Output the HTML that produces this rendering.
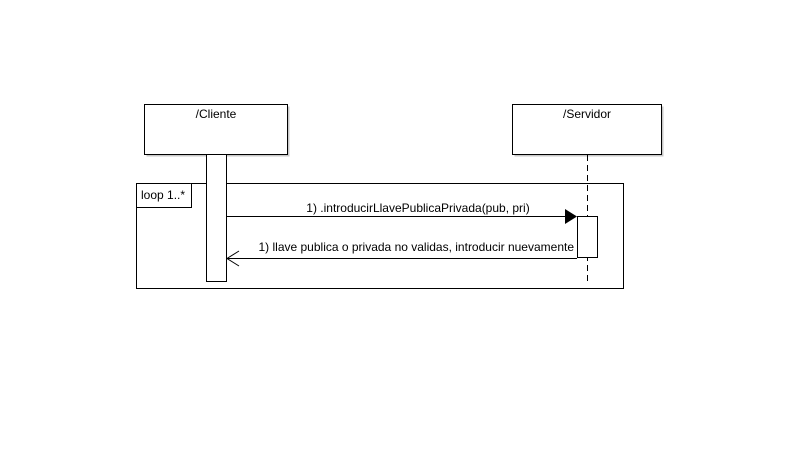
<!DOCTYPE html>
<html><head><style>body{margin:0;background:#fff}</style></head><body>
<svg width="798" height="456" xmlns="http://www.w3.org/2000/svg" font-family="Liberation Sans, Arial, sans-serif" font-size="12">
<rect width="798" height="456" fill="#fff"/>
<rect x="146.5" y="106.5" width="143" height="50" fill="#c8c8c8"/>
<rect x="144.5" y="104.5" width="143" height="50" fill="#fff" stroke="#000"/>
<text x="216" y="118" text-anchor="middle">/Cliente</text>
<rect x="514.5" y="106.5" width="149" height="50" fill="#c8c8c8"/>
<rect x="512.5" y="104.5" width="149" height="50" fill="#fff" stroke="#000"/>
<text x="587" y="118" text-anchor="middle">/Servidor</text>
<line x1="587.5" y1="155" x2="587.5" y2="282" stroke="#000" stroke-dasharray="6,4"/>
<rect x="136.5" y="183.5" width="487" height="105" fill="none" stroke="#000"/>
<path d="M136.5 207.5H191.5V183.5" fill="#fff" stroke="#000"/>
<text x="141" y="199">loop 1..*</text>
<rect x="206.5" y="154.5" width="20" height="127" fill="#fff" stroke="#000"/>
<rect x="577.5" y="216.5" width="20" height="41" fill="#fff" stroke="#000"/>
<line x1="226.5" y1="216.5" x2="566" y2="216.5" stroke="#000"/>
<polygon points="565,209 577,216.5 565,224" fill="#000"/>
<text x="418" y="212" text-anchor="middle">1) .introducirLlavePublicaPrivada(pub, pri)</text>
<line x1="227" y1="258.5" x2="577" y2="258.5" stroke="#000"/>
<polyline points="239,251 227,258.5 239,266" fill="none" stroke="#000"/>
<text x="574" y="251" text-anchor="end">1) llave publica o privada no validas, introducir nuevamente</text>
</svg>
</body></html>
